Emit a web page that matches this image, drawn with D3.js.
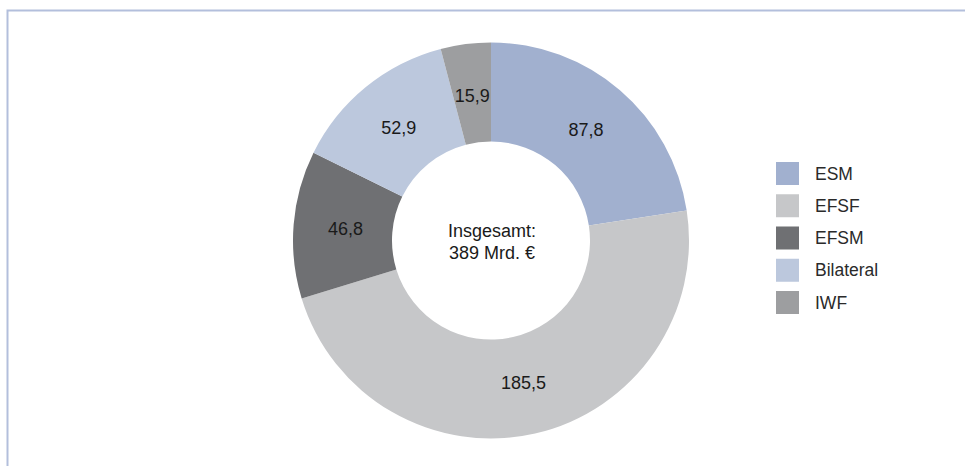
<!DOCTYPE html>
<html><head><meta charset="utf-8">
<script src="https://cdn.jsdelivr.net/npm/d3@7"></script>
<style>
html,body{margin:0;padding:0;background:#fff;}
svg{display:block;font-family:"Liberation Sans",Arial,Helvetica,sans-serif;}
</style></head>
<body>
<svg id="chart" width="965" height="466"></svg>
<script>
const categories = ["ESM", "EFSF", "EFSM", "Bilateral", "IWF"];
const values = [87.8, 185.5, 46.8, 52.9, 15.9];
const valueLabels = ["87,8", "185,5", "46,8", "52,9", "15,9"];
const colors = ["#a1b0cf", "#c6c7c9", "#6f7073", "#bcc8dd", "#9d9ea0"];
const centerLines = ["Insgesamt:", "389 Mrd. €"];

const svg = d3.select("#chart");

// frame
svg.append("path")
  .attr("d", "M7.5,466 V10.5 H965")
  .attr("fill", "none")
  .attr("stroke", "#b3bfdc")
  .attr("stroke-width", 2);

const cx = 491, cy = 240.5, rOut = 198, rIn = 99, rLab = 146;
const data = categories.map((c, i) => ({ cat: c, value: values[i], label: valueLabels[i], color: colors[i] }));

const pie = d3.pie().value(d => d.value).sort(null);
const arc = d3.arc().innerRadius(rIn).outerRadius(rOut);
const labelArc = d3.arc().innerRadius(rLab).outerRadius(rLab);

const g = svg.append("g").attr("transform", `translate(${cx},${cy})`);
const arcs = pie(data);

g.selectAll("path.slice").data(arcs).join("path")
  .attr("class", "slice")
  .attr("d", arc)
  .attr("fill", d => d.data.color);

g.selectAll("text.val").data(arcs).join("text")
  .attr("class", "val")
  .attr("transform", d => `translate(${labelArc.centroid(d)})`)
  .attr("text-anchor", "middle")
  .attr("dy", "0.35em")
  .attr("font-size", 18)
  .attr("fill", "#1a1a1a")
  .text(d => d.data.label);

g.selectAll("text.center").data(centerLines).join("text")
  .attr("class", "center")
  .attr("x", 1)
  .attr("y", (d, i) => -10 + i * 22)
  .attr("text-anchor", "middle")
  .attr("dy", "0.35em")
  .attr("font-size", 18)
  .attr("fill", "#1a1a1a")
  .text(d => d);

// legend
const legY = d3.scalePoint().domain(categories).range([173.5, 302.5]);
const leg = svg.append("g");
const items = leg.selectAll("g").data(data).join("g")
  .attr("transform", d => `translate(776,${legY(d.cat)})`);
items.append("rect")
  .attr("x", 0).attr("y", -11.5).attr("width", 23).attr("height", 23)
  .attr("fill", d => d.color);
items.append("text")
  .attr("x", 39).attr("dy", "0.35em")
  .attr("font-size", 17.5)
  .attr("fill", "#2a2a2a")
  .text(d => d.cat);
</script>
</body></html>
